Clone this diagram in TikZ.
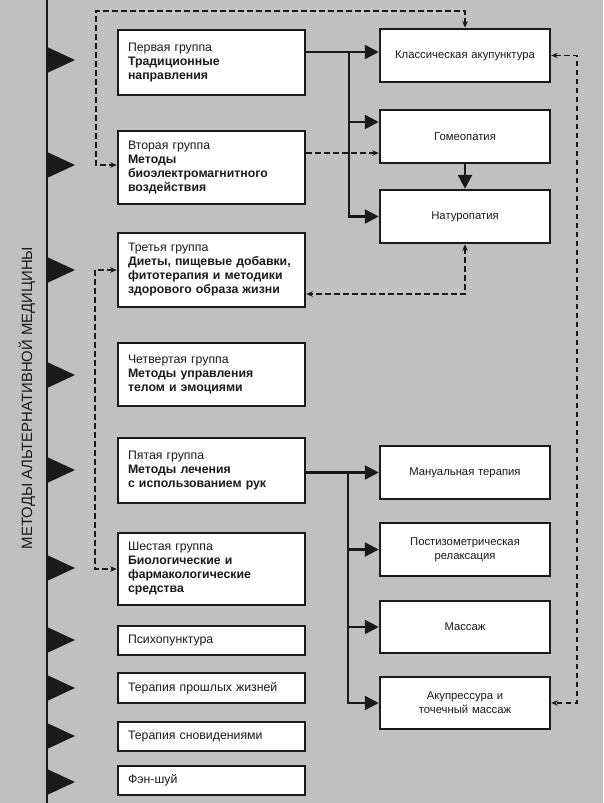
\documentclass[tikz,border=0pt]{standalone}
\usepackage{fontspec}
\setmainfont{Liberation Sans}
\usetikzlibrary{arrows.meta}
\definecolor{bg}{RGB}{192,192,192}
\definecolor{ink}{RGB}{26,26,26}
\begin{document}
\begin{tikzpicture}[x=1pt,y=-1pt,
  lbox/.style={draw=ink,line width=2.5pt,fill=white,minimum width=187pt,
    text width=167pt,inner xsep=10pt,inner ysep=0pt,align=left,
    font=\fontsize{12.3}{14}\selectfont,text=ink},
  rbox/.style={draw=ink,line width=2.5pt,fill=white,minimum width=170pt,
    minimum height=53pt,text width=160pt,inner xsep=5pt,inner ysep=0pt,align=center,
    font=\fontsize{11.3}{14}\selectfont,text=ink},
  conn/.style={draw=ink,line width=2.5pt,-{Triangle[length=14pt,width=14pt]}},
  dline/.style={draw=ink,line width=1.2pt,dash pattern=on 5.5pt off 3.5pt},
  dconn/.style={dline,{Stealth[length=6.5pt,width=5.5pt]}-{Stealth[length=6.5pt,width=5.5pt]}},
  done/.style={dline,-{Stealth[length=6.5pt,width=5.5pt]}},
  tri/.style={fill=ink}
]
\path[fill=bg] (0,0) rectangle (603,803);
\useasboundingbox (0,0) rectangle (603,803);

% spine
\draw[ink,line width=2.7pt] (47,0) -- (47,803);
\foreach \yy in {60,165,270,375,470,568,640,688,736,782}{
  \fill[tri] (47,\yy-13) -- (75,\yy) -- (47,\yy+13) -- cycle;
}
\node[rotate=90,font=\fontsize{14.9}{16}\selectfont,text=ink] (title) at (27,398) {МЕТОДЫ АЛЬТЕРНАТИВНОЙ МЕДИЦИНЫ};

% left boxes
\node[lbox,minimum height=65pt] (b1) at (211.5,62.5) {Первая группа\\\textbf{Традиционные}\\\textbf{направления}};
\node[lbox,minimum height=73pt] (b2) at (211.5,167.5) {Вторая группа\\\textbf{Методы}\\\textbf{биоэлектромагнитного}\\\textbf{воздействия}};
\node[lbox,minimum height=74pt] (b3) at (211.5,270) {Третья группа\\\textbf{Диеты, пищевые добавки,}\\\textbf{фитотерапия и методики}\\\textbf{здорового образа жизни}};
\node[lbox,minimum height=63pt] (b4) at (211.5,374.5) {Четвертая группа\\\textbf{Методы управления}\\\textbf{телом и эмоциями}};
\node[lbox,minimum height=65pt] (b5) at (211.5,470.5) {Пятая группа\\\textbf{Методы лечения}\\\textbf{с использованием рук}};
\node[lbox,minimum height=72pt] (b6) at (211.5,569) {Шестая группа\\\textbf{Биологические и}\\\textbf{фармакологические}\\\textbf{средства}};
\node[lbox,minimum height=29pt] (b7) at (211.5,640.5) {Психопунктура};
\node[lbox,minimum height=30pt] (b8) at (211.5,688) {Терапия прошлых жизней};
\node[lbox,minimum height=29pt] (b9) at (211.5,736.5) {Терапия сновидениями};
\node[lbox,minimum height=29pt] (b10) at (211.5,780.5) {Фэн-шуй};

% right boxes
\node[rbox] (r1) at (465,55.5) {Классическая акупунктура};
\node[rbox] (r2) at (465,136.5) {Гомеопатия};
\node[rbox] (r3) at (465,216.5) {Натуропатия};
\node[rbox] (r4) at (465,472.5) {Мануальная терапия};
\node[rbox] (r5) at (465,549.5) {Постизометрическая\\релаксация};
\node[rbox,minimum height=52pt] (r6) at (465,627) {Массаж};
\node[rbox,minimum height=52pt] (r7) at (465,703) {Акупрессура и\\точечный массаж};

% junction coordinates
\coordinate (j1) at (349,52);
\coordinate (j2) at (349,122);
\coordinate (j3) at (348,472);
\coordinate (d1) at (0,153);
\coordinate (t1) at (96,11);
\coordinate (t2) at (96,165);
\coordinate (n1) at (465,294);
\coordinate (rr) at (577,400);
\coordinate (ll) at (95,400);

% solid connectors, group 1
\draw[conn] (b1.east |- j1) -- (r1.west |- j1);
\draw[conn] (j1) |- (r3.west);
\draw[conn] (j2) -- (r2.west |- j2);
\draw[conn] (r2.south) -- (r3.north);

% solid connectors, group 5
\draw[conn] (b5.east |- r4.west) -- (r4.west);
\draw[conn] (j3) |- (r7.west);
\draw[conn] (j3 |- r5.west) -- (r5.west);
\draw[conn] (j3 |- r6.west) -- (r6.west);

% dashed connectors
\draw[done] (b2.east |- d1) -- (r2.west |- d1);
\draw[dconn] (r1.north) |- (t1) -- (t2) -- (b2.west |- t2);
\draw[dconn] (r3.south) -- (n1) -- (b3.east |- n1);
\draw[dconn] (r1.east) -| (rr) |- (r7.east);
\draw[dconn] (b3.west) -| (ll) |- (b6.west);
\end{tikzpicture}
\end{document}
